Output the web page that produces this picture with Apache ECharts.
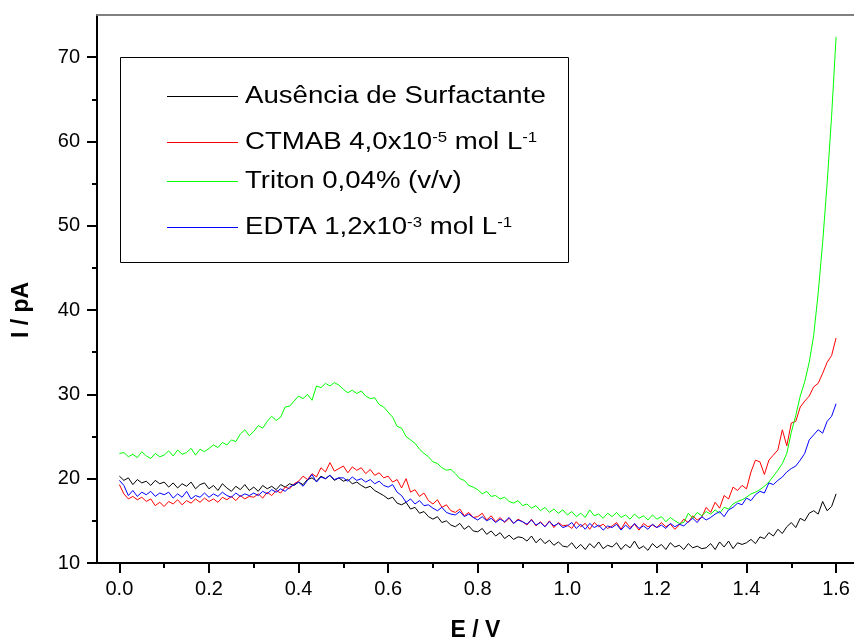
<!DOCTYPE html>
<html>
<head>
<meta charset="utf-8">
<script src="https://cdn.jsdelivr.net/npm/echarts@6/dist/echarts.min.js"></script>
<style>html,body{margin:0;padding:0;background:#fff}#c{width:854px;height:641px}</style>
</head>
<body>
<div id="c"></div>
<script>
var E = [0.00,0.01,0.02,0.03,0.04,0.05,0.06,0.07,0.08,0.09,
0.10,0.11,0.12,0.13,0.14,0.15,0.16,0.17,0.18,0.19,
0.20,0.21,0.22,0.23,0.24,0.25,0.26,0.27,0.28,0.29,
0.30,0.31,0.32,0.33,0.34,0.35,0.36,0.37,0.38,0.39,
0.40,0.41,0.42,0.43,0.44,0.45,0.46,0.47,0.48,0.49,
0.50,0.51,0.52,0.53,0.54,0.55,0.56,0.57,0.58,0.59,
0.60,0.61,0.62,0.63,0.64,0.65,0.66,0.67,0.68,0.69,
0.70,0.71,0.72,0.73,0.74,0.75,0.76,0.77,0.78,0.79,
0.80,0.81,0.82,0.83,0.84,0.85,0.86,0.87,0.88,0.89,
0.90,0.91,0.92,0.93,0.94,0.95,0.96,0.97,0.98,0.99,
1.00,1.01,1.02,1.03,1.04,1.05,1.06,1.07,1.08,1.09,
1.10,1.11,1.12,1.13,1.14,1.15,1.16,1.17,1.18,1.19,
1.20,1.21,1.22,1.23,1.24,1.25,1.26,1.27,1.28,1.29,
1.30,1.31,1.32,1.33,1.34,1.35,1.36,1.37,1.38,1.39,
1.40,1.41,1.42,1.43,1.44,1.45,1.46,1.47,1.48,1.49,
1.50,1.51,1.52,1.53,1.54,1.55,1.56,1.57,1.58,1.59,
1.60];

var ausencia = [20.3,19.8,20.1,19.3,19.9,19.5,19.7,19.2,19.8,19.4,
19.6,19.0,19.5,18.9,19.4,19.1,19.6,18.8,19.3,19.5,
18.8,19.2,18.6,19.4,18.9,18.5,19.1,18.7,19.3,18.6,
19.0,18.5,19.2,18.8,19.1,18.7,19.3,19.0,19.4,19.2,
19.6,19.3,19.9,20.1,19.7,20.3,20.0,20.4,19.8,20.1,
19.7,19.9,19.4,19.6,19.2,18.9,19.1,18.6,18.3,18.0,
17.6,17.8,17.1,16.9,17.2,16.4,16.6,15.9,16.1,15.5,
15.2,15.5,14.8,15.0,14.5,14.3,14.7,14.0,14.4,13.8,
13.7,14.1,13.4,13.8,13.2,13.6,12.9,13.3,12.8,13.1,
13.0,12.6,13.2,12.4,12.9,12.3,12.7,12.1,12.5,12.0,
11.9,12.4,11.7,12.2,11.6,12.3,11.8,12.5,11.7,12.1,
11.9,12.4,11.6,12.2,11.8,12.6,11.7,12.0,11.5,12.3,
11.8,12.2,11.6,12.4,11.9,12.1,11.6,12.3,11.8,12.0,
11.7,11.8,12.3,11.6,12.5,11.9,12.6,11.7,12.4,12.2,
12.4,12.8,12.3,13.1,12.9,13.6,13.2,14.0,13.5,14.3,
14.8,14.2,15.3,15.0,15.9,16.2,15.8,17.3,16.2,16.7,
18.2];

var ctmab = [19.3,18.2,17.6,17.9,17.5,17.8,17.3,17.6,16.8,17.2,
16.7,17.3,17.0,17.5,16.9,17.4,17.1,17.6,17.2,17.7,
17.3,17.6,17.2,17.8,17.5,17.9,17.4,18.0,17.6,17.9,
17.8,18.2,17.7,18.4,18.0,18.6,18.3,19.0,18.8,19.4,
19.7,20.3,19.9,20.6,20.2,21.3,20.8,21.9,20.9,21.2,
21.5,20.7,21.4,21.0,21.3,20.6,21.1,20.4,20.7,20.1,
20.3,19.6,19.9,18.9,20.0,18.4,18.7,17.9,18.3,17.4,
17.0,17.5,16.6,16.9,16.2,16.0,16.4,15.6,16.0,15.4,
15.5,15.9,15.1,15.6,14.9,15.4,14.8,15.3,14.7,15.2,
14.9,14.5,15.2,14.4,14.9,14.3,15.0,14.2,14.8,14.4,
14.5,14.1,14.9,14.3,14.7,14.0,14.8,14.3,14.6,14.1,
14.4,14.8,14.0,14.9,14.2,14.6,13.9,14.7,14.3,14.5,
14.2,14.8,14.3,14.6,14.0,14.5,15.2,14.8,15.6,15.1,
15.4,16.6,16.0,17.2,16.5,18.0,17.6,19.0,18.6,19.2,
18.8,20.8,22.2,22.0,20.5,22.2,22.8,23.4,25.8,23.9,
26.6,26.8,28.5,29.2,29.8,30.9,31.3,32.5,33.8,34.6,
36.7];

var triton = [23.0,23.1,22.6,22.9,22.5,23.2,22.7,22.4,23.0,22.6,
22.8,23.3,22.7,23.4,22.9,23.1,23.6,22.8,23.5,23.2,
23.6,24.0,23.7,24.3,24.0,24.6,24.4,25.3,25.8,25.1,
25.6,26.3,26.0,26.8,27.4,26.9,27.3,28.5,28.6,29.2,
29.8,29.5,30.0,29.3,31.0,30.8,31.3,31.0,31.4,31.1,
30.6,30.2,30.5,30.1,30.4,29.8,29.5,29.6,28.8,28.5,
27.9,27.3,26.2,26.0,25.0,24.6,24.2,23.5,23.0,22.6,
22.0,21.8,21.3,21.0,21.1,20.6,20.0,19.8,19.2,19.0,
18.7,18.2,18.5,17.9,18.0,17.6,17.8,17.3,17.1,17.4,
16.8,17.0,16.5,16.8,16.2,16.6,16.0,16.4,15.9,16.3,
15.7,16.1,15.5,15.9,15.4,16.3,15.6,15.8,15.3,15.9,
15.5,16.0,15.4,15.7,15.2,15.8,15.3,15.6,15.1,15.7,
15.2,15.5,14.9,15.4,15.0,14.7,14.8,15.9,15.3,16.0,
15.6,16.1,15.8,16.3,15.9,16.6,16.4,17.0,17.3,17.5,
17.8,18.2,18.4,18.7,19.1,19.6,20.3,21.0,21.8,23.0,
25.5,27.5,29.8,31.5,33.8,37.0,42.0,48.0,55.0,63.0,
72.4];

var edta = [19.8,19.2,18.0,18.6,17.9,18.4,18.1,18.5,17.9,18.3,
18.1,18.4,17.7,18.2,17.8,18.5,17.6,18.0,17.8,18.3,
17.8,18.2,17.9,18.4,18.0,17.8,18.3,17.9,18.2,18.0,
18.3,18.0,18.5,18.2,18.7,18.4,18.8,18.5,19.0,19.3,
19.6,19.1,19.8,20.5,19.6,20.2,20.0,20.4,19.9,20.1,
20.1,19.7,20.2,19.8,20.0,19.6,19.9,19.4,19.7,19.2,
19.0,19.3,18.4,18.0,17.2,17.6,17.0,17.4,16.8,16.9,
16.5,16.2,16.6,16.0,15.8,15.7,16.1,15.5,15.8,15.4,
15.1,15.5,15.0,15.3,14.8,15.2,14.9,15.4,14.7,15.1,
14.9,14.6,15.1,14.5,14.8,14.3,14.9,14.4,14.7,14.2,
14.4,14.8,14.1,14.6,14.0,14.7,14.2,14.5,13.9,14.4,
14.2,14.6,13.9,14.5,14.0,14.7,14.1,14.4,14.0,14.6,
14.2,14.5,14.1,14.7,14.3,14.6,14.4,14.9,15.3,14.8,
15.5,15.1,15.4,15.8,16.1,15.5,16.3,16.6,17.1,16.9,
17.7,17.4,18.1,18.5,18.3,19.5,19.3,19.8,20.2,20.8,
21.2,21.5,22.2,23.0,24.6,25.2,25.8,25.4,26.8,27.4,
28.9];

var seriesNames = ['Ausência de Surfactante', 'CTMAB 4,0x10-5 mol L-1', 'Triton 0,04% (v/v)', 'EDTA 1,2x10-3 mol L-1'];
var legendRich = [
  'Ausência de Surfactante',
  'CTMAB 4,0x10{s|-5} mol L{s|-1}',
  'Triton 0,04% (v/v)',
  'EDTA 1,2x10{s|-3} mol L{s|-1}'
];
var seriesColors = ['#000000', '#ff0000', '#00ff00', '#0000ff'];
var seriesData = [ausencia, ctmab, triton, edta];

var xMajor = [0.0, 0.2, 0.4, 0.6, 0.8, 1.0, 1.2, 1.4, 1.6];
var xMinor = [0.1, 0.3, 0.5, 0.7, 0.9, 1.1, 1.3, 1.5];
var yMajor = [10, 20, 30, 40, 50, 60, 70];
var yMinor = [15, 25, 35, 45, 55, 65];

var FONT = '"Liberation Sans", Arial, Helvetica, sans-serif';

function pairs(ys) { return ys.map(function (v, i) { return [E[i], v]; }); }

var chart = echarts.init(document.getElementById('c'), null, { renderer: 'canvas' });

var series = seriesData.map(function (d, i) {
  return {
    name: seriesNames[i], type: 'line', xAxisIndex: 0, yAxisIndex: 0,
    data: pairs(d), showSymbol: false, symbol: 'none', animation: false,
    lineStyle: { color: seriesColors[i], width: 1 }, itemStyle: { color: seriesColors[i] },
    z: 3
  };
});

var legendY = [96, 142, 181, 227];
var graphics = [{
  id: 'legbox', type: 'rect', shape: { x: 120.5, y: 57.5, width: 448, height: 205 },
  style: { fill: '#fff', stroke: '#000', lineWidth: 1 }, z: 10
}];
legendRich.forEach(function (t, i) {
  graphics.push({
    id: 'legline' + i, type: 'rect', shape: { x: 167, y: legendY[i], width: 71, height: 1 },
    style: { fill: seriesColors[i] }, z: 11
  });
  graphics.push({
    id: 'legtext' + i, type: 'text', x: 245, y: legendY[i] + 1, scaleX: 1.2, z: 11,
    style: {
      text: t, fill: '#000', font: '23px ' + FONT, verticalAlign: 'middle', align: 'left',
      rich: { s: { fontSize: 14, fontFamily: FONT, verticalAlign: 'top', lineHeight: 10, fill: '#000' } }
    }
  });
});

var option = {
  backgroundColor: '#fff',
  animation: false,
  grid: { left: 97, right: 0, top: 15, bottom: 78, containLabel: false, outerBoundsMode: 'none' },
  xAxis: [
    {
      type: 'value', min: -0.05, max: 1.64, position: 'bottom',
      name: 'E / V', nameLocation: 'middle', nameGap: 56,
      nameTextStyle: { fontFamily: FONT, fontSize: 23, fontWeight: 'bold', color: '#000' },
      axisLine: { show: true, onZero: false, lineStyle: { color: '#000', width: 2 } },
      axisTick: { show: true, inside: false, length: 10, customValues: xMajor, lineStyle: { color: '#000', width: 2 } },
      axisLabel: { show: true, customValues: xMajor, margin: 16, fontFamily: FONT, fontSize: 20, color: '#000',
        formatter: function (v) { return v.toFixed(1); } },
      splitLine: { show: false }
    },
    {
      type: 'value', min: -0.05, max: 1.64, position: 'bottom',
      axisLine: { show: false, onZero: false },
      axisTick: { show: true, inside: false, length: 5, customValues: xMinor, lineStyle: { color: '#000', width: 2 } },
      axisLabel: { show: false }, splitLine: { show: false }
    },
    {
      type: 'value', min: -0.05, max: 1.64, position: 'top',
      axisLine: { show: true, onZero: false, lineStyle: { color: '#808080', width: 2 } },
      axisTick: { show: false }, axisLabel: { show: false }, splitLine: { show: false }
    }
  ],
  yAxis: [
    {
      type: 'value', min: 10, max: 75, position: 'left',
      name: 'I / pA', nameLocation: 'middle', nameGap: 64, nameRotate: 90,
      nameTextStyle: { fontFamily: FONT, fontSize: 23, fontWeight: 'bold', color: '#000', padding: [0, 42, 0, 0] },
      axisLine: { show: true, onZero: false, lineStyle: { color: '#000', width: 2 } },
      axisTick: { show: true, inside: false, length: 10, customValues: yMajor, lineStyle: { color: '#000', width: 2 } },
      axisLabel: { show: true, customValues: yMajor, margin: 17, fontFamily: FONT, fontSize: 20, color: '#000' },
      splitLine: { show: false }
    },
    {
      type: 'value', min: 10, max: 75, position: 'left',
      axisLine: { show: false, onZero: false },
      axisTick: { show: true, inside: false, length: 5, customValues: yMinor, lineStyle: { color: '#000', width: 2 } },
      axisLabel: { show: false }, splitLine: { show: false }
    }
  ],
  series: series,
  graphic: graphics
};
chart.setOption(option);
</script>
</body>
</html>
